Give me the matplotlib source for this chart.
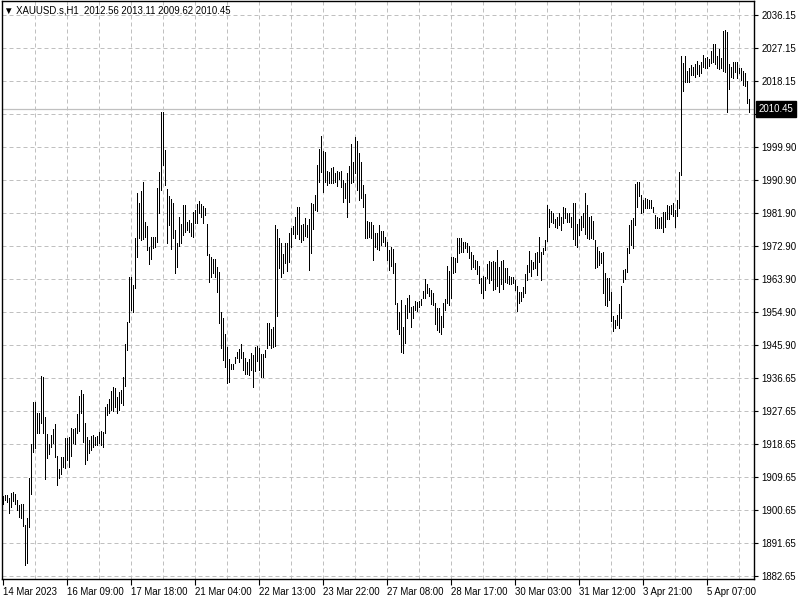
import numpy as np
import matplotlib
matplotlib.use('Agg')
import matplotlib.pyplot as plt

# XAUUSD.s H1 bars (high / low)
highs = [
    1904.5, 1904.8, 1904.8, 1904.0, 1905.4, 1905.6, 1905.1, 1903.5, 1902.1, 1902.4,
    1902.4, 1896.6, 1898.5, 1909.5, 1918.8, 1930.3, 1930.3, 1927.2, 1927.2, 1937.4,
    1937.1, 1926.2, 1921.5, 1918.8, 1921.2, 1922.9, 1924.2, 1915.4, 1911.9, 1915.2,
    1915.2, 1920.4, 1920.4, 1920.7, 1923.2, 1922.9, 1923.2, 1927.0, 1931.9, 1933.5,
    1932.5, 1924.5, 1920.7, 1919.9, 1921.0, 1921.2, 1920.7, 1921.0, 1922.1, 1922.3,
    1922.1, 1928.9, 1929.7, 1931.0, 1933.2, 1934.3, 1934.1, 1931.6, 1933.0, 1933.5,
    1937.1, 1946.1, 1952.2, 1964.5, 1964.5, 1962.3, 1975.1, 1987.4, 1984.7, 1988.0,
    1990.4, 1979.5, 1978.4, 1972.7, 1975.4, 1975.4, 1975.4, 1988.8, 1993.2, 2009.6,
    2009.6, 1999.2, 1988.5, 1986.6, 1985.8, 1984.7, 1977.3, 1973.8, 1980.9, 1979.0,
    1984.2, 1984.2, 1979.5, 1980.1, 1979.3, 1982.3, 1982.8, 1984.4, 1985.3, 1984.4,
    1983.9, 1983.3, 1979.0, 1970.8, 1970.0, 1969.4, 1969.4, 1967.2, 1965.8, 1954.9,
    1953.2, 1948.9, 1945.3, 1942.0, 1940.6, 1940.6, 1942.6, 1943.9, 1944.8, 1946.1,
    1943.9, 1942.3, 1941.2, 1942.0, 1943.7, 1943.1, 1945.3, 1945.6, 1945.0, 1943.4,
    1943.4, 1944.5, 1951.9, 1951.9, 1950.2, 1950.8, 1978.7, 1977.6, 1975.1, 1973.8,
    1970.8, 1973.8, 1973.8, 1976.5, 1977.9, 1978.4, 1980.9, 1983.6, 1983.6, 1978.7,
    1979.0, 1980.6, 1978.7, 1980.3, 1984.7, 1984.4, 1986.9, 1995.1, 1999.5, 2003.0,
    1998.9, 1998.6, 1993.5, 1993.2, 1994.3, 1994.6, 1992.9, 1993.5, 1993.2, 1993.5,
    1991.0, 1990.2, 1992.9, 1994.8, 2000.9, 1995.9, 2002.7, 2001.7, 1998.4, 1995.9,
    1989.6, 1987.2, 1979.8, 1979.5, 1979.5, 1978.7, 1976.5, 1976.5, 1978.7, 1977.0,
    1977.0, 1975.4, 1974.0, 1971.9, 1972.7, 1972.1, 1968.2, 1957.3, 1954.9, 1958.2,
    1950.8, 1956.8, 1958.7, 1959.5, 1956.3, 1956.5, 1957.9, 1957.6, 1957.9, 1958.4,
    1960.6, 1963.9, 1962.5, 1961.5, 1960.9, 1960.1, 1957.3, 1956.0, 1956.0, 1953.8,
    1957.3, 1958.4, 1967.5, 1966.1, 1970.0, 1970.0, 1969.7, 1975.1, 1975.1, 1975.1,
    1974.0, 1974.0, 1973.8, 1973.0, 1971.3, 1970.5, 1969.1, 1968.8, 1967.5, 1964.2,
    1964.7, 1964.5, 1968.0, 1968.8, 1968.6, 1968.8, 1968.6, 1971.9, 1967.2, 1968.8,
    1969.1, 1966.9, 1966.9, 1964.7, 1964.5, 1964.5, 1963.6, 1962.0, 1960.3, 1960.3,
    1961.7, 1965.3, 1967.8, 1971.6, 1969.1, 1968.6, 1971.1, 1971.3, 1975.4, 1971.3,
    1972.4, 1974.6, 1984.2, 1983.1, 1982.5, 1982.0, 1980.3, 1980.9, 1982.0, 1980.9,
    1983.6, 1983.3, 1982.0, 1982.0, 1980.9, 1984.7, 1984.7, 1979.0, 1980.3, 1981.1,
    1982.0, 1987.4, 1984.2, 1980.9, 1981.1, 1979.8, 1974.6, 1972.7, 1971.6, 1971.1,
    1971.3, 1965.6, 1964.2, 1964.2, 1960.3, 1953.8, 1952.7, 1954.1, 1957.1, 1962.0,
    1966.4, 1966.7, 1972.4, 1978.7, 1980.1, 1980.6, 1989.9, 1990.4, 1990.4, 1986.9,
    1985.5, 1986.1, 1985.8, 1985.5, 1985.5, 1983.6, 1981.4, 1980.9, 1980.6, 1980.9,
    1982.3, 1982.3, 1984.2, 1983.9, 1984.2, 1984.7, 1982.8, 1985.5, 1993.2, 2024.9,
    2023.0, 2024.9, 2020.8, 2021.6, 2022.5, 2021.9, 2022.7, 2023.6, 2022.5, 2023.3,
    2025.2, 2024.4, 2024.7, 2024.1, 2026.3, 2028.2, 2028.2, 2024.9, 2026.8, 2024.4,
    2031.8, 2032.0, 2031.5, 2022.7, 2021.9, 2023.3, 2023.3, 2023.3, 2021.6, 2021.6,
    2020.8, 2020.3, 2018.1, 2013.11,
]
lows = [
    1902.4, 1903.5, 1902.9, 1899.9, 1901.5, 1903.2, 1902.4, 1900.7, 1898.8, 1898.5,
    1896.3, 1885.7, 1886.2, 1896.1, 1905.1, 1916.6, 1917.7, 1921.8, 1921.8, 1924.5,
    1921.8, 1909.2, 1914.9, 1916.0, 1917.9, 1919.0, 1915.2, 1907.5, 1909.5, 1910.6,
    1912.4, 1912.2, 1914.4, 1912.4, 1915.4, 1919.0, 1918.8, 1921.8, 1922.3, 1927.2,
    1919.3, 1913.3, 1914.4, 1916.3, 1917.1, 1917.9, 1918.5, 1918.5, 1919.0, 1918.5,
    1917.9, 1921.8, 1926.7, 1927.2, 1928.0, 1927.7, 1928.9, 1927.2, 1928.0, 1930.0,
    1929.4, 1934.6, 1944.5, 1952.2, 1955.4, 1954.9, 1961.5, 1970.0, 1975.1, 1974.6,
    1974.9, 1975.4, 1971.9, 1968.0, 1969.4, 1972.4, 1972.7, 1974.0, 1982.0, 1988.3,
    1995.1, 1989.6, 1973.8, 1978.7, 1972.1, 1975.1, 1965.6, 1967.2, 1973.0, 1973.8,
    1976.0, 1976.8, 1977.3, 1976.8, 1975.7, 1975.4, 1979.3, 1979.3, 1982.0, 1980.9,
    1979.3, 1981.4, 1970.5, 1963.1, 1964.4, 1965.6, 1964.5, 1960.3, 1951.9, 1945.0,
    1941.7, 1939.8, 1935.5, 1935.7, 1939.2, 1939.2, 1940.9, 1942.3, 1941.2, 1942.3,
    1939.0, 1937.9, 1937.9, 1937.6, 1939.0, 1934.3, 1938.7, 1941.5, 1939.0, 1937.1,
    1937.1, 1942.6, 1945.0, 1945.8, 1945.0, 1945.3, 1945.6, 1953.8, 1966.9, 1964.5,
    1965.6, 1968.2, 1966.1, 1968.6, 1972.7, 1976.2, 1975.1, 1976.2, 1974.9, 1974.0,
    1974.6, 1975.7, 1975.4, 1966.4, 1971.0, 1977.6, 1982.8, 1982.5, 1990.4, 1993.2,
    1987.7, 1990.4, 1989.6, 1990.2, 1990.2, 1990.2, 1990.4, 1989.4, 1991.3, 1989.1,
    1985.0, 1986.1, 1980.9, 1985.0, 1990.2, 1990.4, 1992.9, 1988.3, 1985.5, 1986.1,
    1983.6, 1975.1, 1975.1, 1975.4, 1975.1, 1969.1, 1972.7, 1972.1, 1971.9, 1973.2,
    1974.0, 1973.0, 1969.1, 1966.4, 1967.5, 1965.6, 1957.1, 1950.2, 1948.9, 1943.9,
    1943.7, 1946.4, 1953.2, 1954.9, 1950.8, 1953.2, 1955.4, 1955.1, 1956.3, 1956.8,
    1958.7, 1958.7, 1960.1, 1959.3, 1957.1, 1956.8, 1951.6, 1949.9, 1949.4, 1948.9,
    1950.8, 1955.4, 1957.3, 1956.8, 1958.7, 1965.6, 1965.8, 1968.6, 1971.0, 1971.3,
    1971.3, 1972.4, 1971.3, 1969.7, 1966.7, 1967.2, 1966.7, 1965.3, 1962.8, 1960.1,
    1958.7, 1960.9, 1964.2, 1962.8, 1963.6, 1960.9, 1961.2, 1962.0, 1960.3, 1962.5,
    1961.2, 1963.1, 1962.8, 1962.5, 1962.5, 1962.8, 1960.9, 1955.1, 1957.3, 1957.9,
    1959.0, 1960.1, 1963.6, 1965.8, 1964.7, 1966.7, 1966.9, 1965.0, 1968.6, 1963.6,
    1970.8, 1971.9, 1974.3, 1978.1, 1979.5, 1979.3, 1978.1, 1977.9, 1978.7, 1977.3,
    1979.3, 1980.6, 1979.5, 1979.5, 1978.1, 1974.9, 1973.2, 1972.7, 1976.0, 1977.3,
    1978.1, 1976.2, 1975.1, 1974.9, 1975.1, 1974.9, 1966.9, 1967.2, 1967.8, 1968.2,
    1960.1, 1956.8, 1956.5, 1958.2, 1952.4, 1949.7, 1950.5, 1951.3, 1950.5, 1953.2,
    1963.1, 1963.9, 1965.8, 1971.1, 1973.2, 1972.4, 1978.7, 1983.6, 1986.6, 1982.0,
    1982.3, 1983.3, 1983.3, 1983.3, 1983.3, 1982.3, 1977.9, 1977.9, 1977.9, 1977.9,
    1976.8, 1978.1, 1980.3, 1980.3, 1981.7, 1981.1, 1978.1, 1981.1, 1983.3, 1992.4,
    2015.4, 2017.8, 2017.8, 2017.8, 2019.7, 2019.7, 2019.2, 2020.0, 2019.5, 2020.3,
    2021.9, 2021.6, 2021.6, 2022.2, 2023.0, 2023.3, 2022.7, 2021.6, 2021.4, 2021.6,
    2020.8, 2020.5, 2009.6, 2015.9, 2019.2, 2018.9, 2020.5, 2018.9, 2020.3, 2018.4,
    2017.0, 2016.7, 2012.1, 2009.62,
]

last_bar = {'open': 2012.56, 'high': 2013.11, 'low': 2009.62, 'close': 2010.45}

time_labels = ['14 Mar 2023', '16 Mar 09:00', '17 Mar 18:00', '21 Mar 04:00',
               '22 Mar 13:00', '23 Mar 22:00', '27 Mar 08:00', '28 Mar 17:00',
               '30 Mar 03:00', '31 Mar 12:00', '3 Apr 21:00', '5 Apr 07:00']
price_labels = ['2036.15', '2027.15', '2018.15', '2009.15', '1999.90', '1990.90',
                '1981.90', '1972.90', '1963.90', '1954.90', '1945.90', '1936.65',
                '1927.65', '1918.65', '1909.65', '1900.65', '1891.65', '1882.65']

plt.rcParams['font.family'] = ['Liberation Sans', 'DejaVu Sans']

fig = plt.figure(figsize=(8, 6), dpi=100)
ax = fig.add_axes([2 / 800, 21 / 600, 752 / 800, 578 / 600])

n = len(highs)
x = np.arange(n)
grid_kw = dict(color='#c0c0c0', lw=0.72, linestyle=(0, (4, 3)), zorder=0)

# price grid / ticks
ytick_pos = np.linspace(2036.15, 1882.65, len(price_labels))
for y in ytick_pos:
    ax.axhline(y, **grid_kw)
for gx in range(16, n, 16):
    ax.axvline(gx, **grid_kw)

# current price line
ax.axhline(last_bar['close'], color='#c0c0c0', lw=0.9, zorder=1)

ax.vlines(x, lows, highs, color='black', lw=0.72, antialiased=False, zorder=3)

ax.set_xlim(-0.5, 375.5)
ax.set_ylim(1881.84, 2039.98)

ax.yaxis.tick_right()
ax.set_yticks(ytick_pos)
ax.set_yticklabels(price_labels)
ax.tick_params(axis='y', length=3, width=0.8, pad=2.5, labelsize=6.9)

xt = np.arange(len(time_labels)) * 32
ax.set_xticks(xt)
ax.set_xticklabels(time_labels)
for lbl in ax.get_xticklabels():
    lbl.set_ha('left')
ax.tick_params(axis='x', length=4, width=0.8, pad=1.5, labelsize=6.9)

for s in ax.spines.values():
    s.set_linewidth(1.0)
    s.set_color('black')

# price box on the right axis
ax.text(1.006, last_bar['close'], '%.2f' % last_bar['close'], transform=ax.get_yaxis_transform(),
        ha='left', va='center', color='white', fontsize=6.9, zorder=10, clip_on=False,
        bbox=dict(boxstyle='square,pad=0.3', fc='black', ec='black'))

title = '\u25bc XAUUSD.s,H1  %.2f %.2f %.2f %.2f' % (
    last_bar['open'], last_bar['high'], last_bar['low'], last_bar['close'])
ax.text(0.003, 0.993, title, transform=ax.transAxes, ha='left', va='top',
        fontsize=6.9, color='black', zorder=10)

fig.savefig('out.png', dpi=100, facecolor='white')
